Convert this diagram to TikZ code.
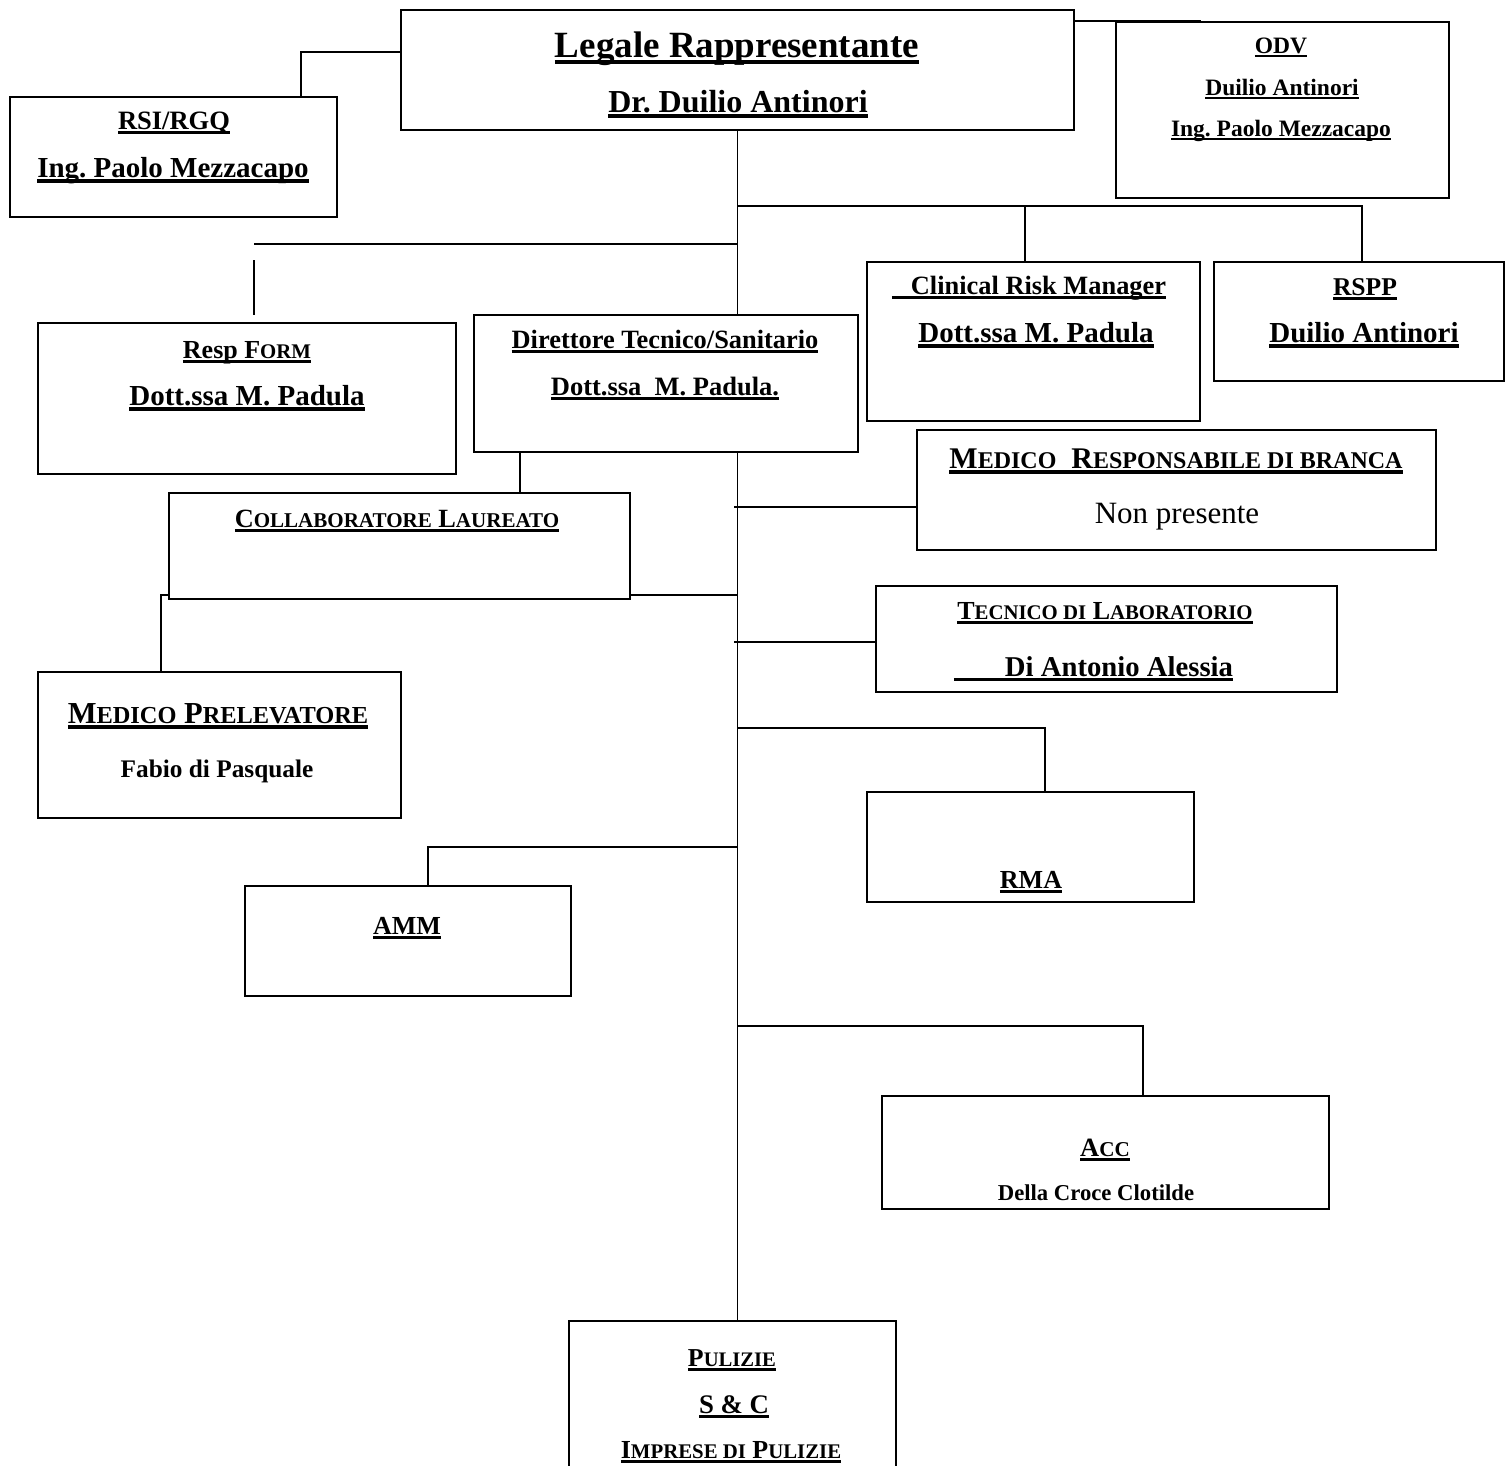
\documentclass[tikz,border=0pt]{standalone}
\usepackage{fontspec}
\setmainfont{Liberation Serif}
\frenchspacing
\makeatletter
\newcommand\smc[1]{{\fontsize{\strip@pt\dimexpr\f@size pt*4/5\relax}{0pt}\selectfont #1}}
\makeatother
\newcommand\fs[1]{\fontsize{#1}{#1}\selectfont}
\newsavebox\ulbx
\newcommand\uln[1]{\sbox\ulbx{#1}\leavevmode\rlap{\vrule width \wd\ulbx height -0.07em depth 0.19em}\usebox\ulbx}
\pgfdeclarelayer{bg}
\pgfsetlayers{bg,main}
\begin{document}
\begin{tikzpicture}[x=1pt,y=-1pt,
  box/.style={draw,fill=white,line width=1.4pt,inner sep=0pt,outer sep=0pt},
  lbl/.style={anchor=base,inner sep=0pt,outer sep=0pt,font=\bfseries},
  plain/.style={anchor=base,inner sep=0pt,outer sep=0pt},
  conn/.style={line width=1.6pt}]
\useasboundingbox (0,0) rectangle (1505,1465);

% boxes
\node[box,minimum width=673pt,minimum height=120pt] (legal) at (737.5,70) {};
\node[box,minimum width=327pt,minimum height=120pt] (rsi) at (173.5,157) {};
\node[box,minimum width=333pt,minimum height=176pt] (odv) at (1282.5,110) {};
\node[box,minimum width=418pt,minimum height=151pt] (form) at (247,398.5) {};
\node[box,minimum width=384pt,minimum height=137pt] (dir) at (666,383.5) {};
\node[box,minimum width=333pt,minimum height=159pt] (crm) at (1033.5,341.5) {};
\node[box,minimum width=290pt,minimum height=119pt] (rspp) at (1359,321.5) {};
\node[box,minimum width=519pt,minimum height=120pt] (mrb) at (1176.5,490) {};
\node[box,minimum width=461pt,minimum height=106pt] (coll) at (399.5,546) {};
\node[box,minimum width=363pt,minimum height=146pt] (mp) at (219.5,745) {};
\node[box,minimum width=461pt,minimum height=106pt] (tec) at (1106.5,639) {};
\node[box,minimum width=327pt,minimum height=110pt] (rma) at (1030.5,847) {};
\node[box,minimum width=326pt,minimum height=110pt] (amm) at (408,941) {};
\node[box,minimum width=447pt,minimum height=113pt] (acc) at (1105.5,1152.5) {};
\node[box,minimum width=327pt,minimum height=158pt] (pul) at (732.5,1400) {};

% texts
\node[lbl] (legalA) at (737,57) {\fs{37}\uln{Legale Rappresentante}};
\node[lbl] (legalB) at (738,112) {\fs{32}\uln{Dr. Duilio Antinori}};
\node[lbl] (rsiA) at (174,129) {\fs{26.5}\uln{RSI/RGQ}};
\node[lbl] (rsiB) at (173,177) {\fs{29}\uln{Ing. Paolo Mezzacapo}};
\node[lbl] (odvA) at (1281,53) {\fs{23.5}\uln{ODV}};
\node[lbl] (odvB) at (1282,95) {\fs{23.5}\uln{Duilio Antinori}};
\node[lbl] (odvC) at (1281,136) {\fs{23.5}\uln{Ing. Paolo Mezzacapo}};
\node[lbl] (formA) at (247,358) {\fs{26}\uln{Resp F\smc{ORM}}};
\node[lbl] (formB) at (247,405) {\fs{29}\uln{Dott.ssa M. Padula}};
\node[lbl] (dirA) at (665,348) {\fs{26.4}\uln{Direttore Tecnico/Sanitario}};
\node[lbl] (dirB) at (665,395) {\fs{26.5}\uln{Dott.ssa\ \ M. Padula.}};
\node[lbl] (crmA) at (1029,294) {\fs{26.4}\uln{\hspace{19pt}Clinical Risk Manager}};
\node[lbl] (crmB) at (1036,342) {\fs{29}\uln{Dott.ssa M. Padula}};
\node[lbl] (rsppA) at (1365,295) {\fs{25.6}\uln{RSPP}};
\node[lbl] (rsppB) at (1364,342) {\fs{29}\uln{Duilio Antinori}};
\node[lbl] (mrbA) at (1176,468) {\fs{30}\uln{M\smc{EDICO}\ \ R\smc{ESPONSABILE DI BRANCA}}};
\node[plain] (mrbB) at (1177,523) {\fs{31}Non presente};
\node[lbl] (collA) at (397,527) {\fs{26.3}\uln{C\smc{OLLABORATORE} L\smc{AUREATO}}};
\node[lbl] (mpA) at (218,723) {\fs{30.5}\uln{M\smc{EDICO} P\smc{RELEVATORE}}};
\node[lbl] (mpB) at (217,777) {\fs{25.3}Fabio di Pasquale};
\node[lbl] (tecA) at (1105,619) {\fs{26}\uln{T\smc{ECNICO DI} L\smc{ABORATORIO}}};
\node[lbl] (tecB) at (1093.5,676) {\fs{28.7}\uln{\hspace{51pt}Di Antonio Alessia}};
\node[lbl] (rmaA) at (1031,888) {\fs{26}\uln{RMA}};
\node[lbl] (ammA) at (407,934) {\fs{26}\uln{AMM}};
\node[lbl] (accA) at (1105,1156) {\fs{26.4}\uln{A\smc{CC}}};
\node[lbl] (accB) at (1096,1200) {\fs{22.7}Della Croce Clotilde};
\node[lbl] (pulA) at (732,1366) {\fs{25.8}\uln{P\smc{ULIZIE}}};
\node[lbl] (pulB) at (734,1413) {\fs{26.8}\uln{S \& C}};
\node[lbl] (pulC) at (731,1458) {\fs{26}\uln{I\smc{MPRESE DI} P\smc{ULIZIE}}};

% connectors (behind the boxes)
\begin{pgfonlayer}{bg}
\draw[conn] (legal.west |- 0,52) -| (rsi.north -| 301,0);
\coordinate (odvj) at (1201,21);
\draw[conn] (legal.east |- 0,21) -- (odvj);
\draw[conn] (legal.south) -- (legal.south |- pul.north);
\coordinate (j206) at (legal.south |- 0,206);
\draw[conn] (j206) -| (rspp.north -| 1362,0);
\draw[conn] (j206 -| 1025,0) -- (crm.north -| 1025,0);
\coordinate (fA) at (254,244);
\draw[conn] (legal.south |- fA) -- (fA);
\coordinate (fB) at (254,260);
\coordinate (fC) at (254,315);
\draw[conn] (fB) -- (fC);
\coordinate (m1) at (734,507);
\draw[conn] (m1) -- (mrb.west |- m1);
\draw[conn] (dir.south -| 520,0) -- (coll.north -| 520,0);
\draw[conn] (coll.east |- 0,595) -- (legal.south |- 0,595);
\draw[conn] (coll.west |- 0,595) -| (mp.north -| 161,0);
\coordinate (tc) at (734,642);
\draw[conn] (tc) -- ([xshift=4pt]tec.west |- tc);
\draw[conn] (legal.south |- 0,728) -| (rma.north -| 1045,0);
\draw[conn] (legal.south |- 0,847) -| (amm.north -| 428,0);
\draw[conn] (legal.south |- 0,1026) -| (acc.north -| 1143,0);
\end{pgfonlayer}
\end{tikzpicture}
\end{document}
